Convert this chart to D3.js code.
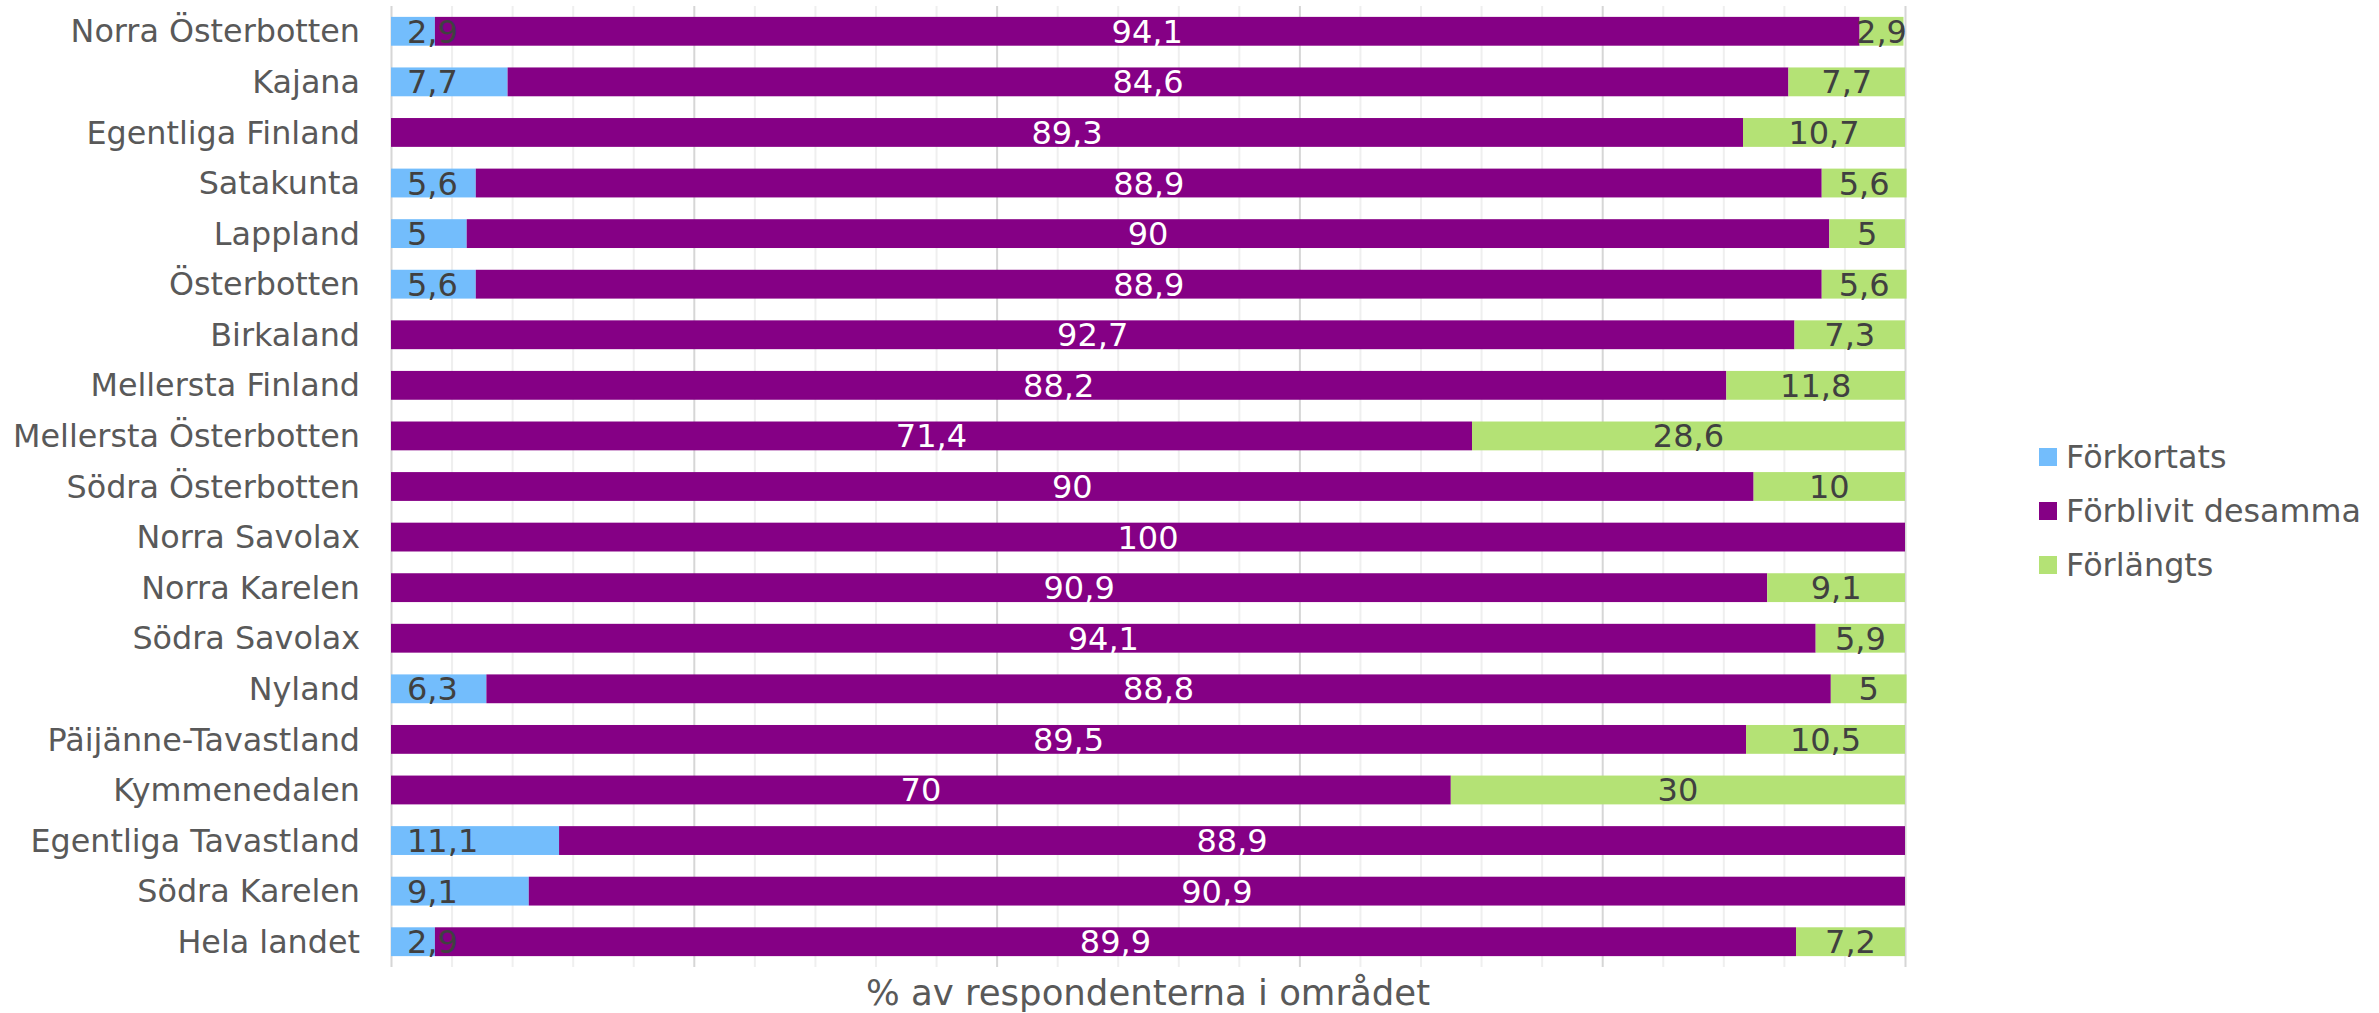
<!DOCTYPE html>
<html>
<head>
  <meta charset="utf-8">
  <title>Arbetstid per område</title>
  <script src="https://d3js.org/d3.v7.min.js"></script>
  <style>
    body {
      margin: 0;
      background: #fff;
      font-family: "DejaVu Sans", Verdana, sans-serif;
    }
    .cat text {
      fill: #595959;
      font-size: 31.8px;
    }
    .grid line {
      stroke: #efefef;
      stroke-width: 2px;
    }
    .grid line.major {
      stroke: #d6d6d6;
    }
    .grid .domain {
      display: none;
    }
    .lbl {
      font-size: 32px;
    }
    .legend text {
      fill: #595959;
      font-size: 31.8px;
    }
  </style>
</head>
<body>
  <script>
    // data (percent of respondents)
    var regions = ["Norra Österbotten", "Kajana", "Egentliga Finland", "Satakunta", "Lappland",
      "Österbotten", "Birkaland", "Mellersta Finland", "Mellersta Österbotten", "Södra Österbotten",
      "Norra Savolax", "Norra Karelen", "Södra Savolax", "Nyland", "Päijänne-Tavastland",
      "Kymmenedalen", "Egentliga Tavastland", "Södra Karelen", "Hela landet"];
    var forkortats = [2.9, 7.7, 0, 5.6, 5, 5.6, 0, 0, 0, 0, 0, 0, 0, 6.3, 0, 0, 11.1, 9.1, 2.9];
    var forblivit = [94.1, 84.6, 89.3, 88.9, 90, 88.9, 92.7, 88.2, 71.4, 90, 100, 90.9, 94.1, 88.8, 89.5, 70, 88.9, 90.9, 89.9];
    var forlangts = [2.9, 7.7, 10.7, 5.6, 5, 5.6, 7.3, 11.8, 28.6, 10, 0, 9.1, 5.9, 5, 10.5, 30, 0, 0, 7.2];
    var seriesNames = ["Förkortats", "Förblivit desamma", "Förlängts"];
    var seriesColors = ["#73bdfc", "#850085", "#b4e275"];
    var axisTitle = "% av respondenterna i området";

    var width = 2379,
        height = 1013;

    var rows = regions.map(function(r, i) {
      return { region: r, s0: forkortats[i], s1: forblivit[i], s2: forlangts[i] };
    });
    var keys = ["s0", "s1", "s2"];
    var stacked = d3.stack().keys(keys)(rows);

    var svg = d3.select("body")
      .append("svg")
      .attr("width", width)
      .attr("height", height);

    var x = d3.scaleLinear()
      .domain([0, 100])
      .range([391, 1905]);

    var y = d3.scaleBand()
      .domain(regions)
      .range([6, 967])
      .paddingInner(0.43)
      .paddingOuter(0.215);

    // gridlines every 4 %, darker every 20 %
    var grid = svg.append("g")
      .attr("class", "grid")
      .attr("transform", "translate(0,967)")
      .call(d3.axisBottom(x)
        .tickValues(d3.range(0, 101, 4))
        .tickSize(-961)
        .tickFormat(""));
    grid.selectAll(".tick line")
      .classed("major", function(d) { return d % 20 === 0; });

    // category labels
    svg.append("g")
      .attr("class", "cat")
      .selectAll("text")
      .data(regions)
      .enter()
      .append("text")
      .attr("x", 360)
      .attr("y", function(d) { return y(d) + y.bandwidth() / 2; })
      .attr("dy", "0.35em")
      .attr("text-anchor", "end")
      .text(function(d) { return d; });

    // bars
    var layers = svg.selectAll(".layer")
      .data(stacked)
      .enter()
      .append("g")
      .attr("class", "layer")
      .attr("fill", function(d, i) { return seriesColors[i]; });

    layers.selectAll("rect")
      .data(function(d) { return d; })
      .enter()
      .append("rect")
      .attr("x", function(d) { return x(d[0]); })
      .attr("y", function(d) { return y(d.data.region); })
      .attr("width", function(d) { return x(d[1]) - x(d[0]); })
      .attr("height", y.bandwidth());

    // value labels
    function fmt(v) {
      return String(v).replace(".", ",");
    }

    var labels = svg.append("g");
    stacked.forEach(function(layer, li) {
      labels.selectAll(".l" + li)
        .data(layer.filter(function(d) { return d[1] - d[0] > 0; }))
        .enter()
        .append("text")
        .attr("class", "lbl l" + li)
        .attr("x", function(d) {
          if (li === 0) return x(0) + 16;
          return (x(d[0]) + x(d[1])) / 2;
        })
        .attr("y", function(d) { return y(d.data.region) + y.bandwidth() / 2; })
        .attr("dy", "0.36em")
        .attr("text-anchor", li === 0 ? "start" : "middle")
        .attr("fill", li === 1 ? "#ffffff" : "#404040")
        .text(function(d) { return fmt(+(d[1] - d[0]).toFixed(1)); });
    });

    // axis title
    svg.append("text")
      .attr("x", (x(0) + x(100)) / 2)
      .attr("y", 1005)
      .attr("text-anchor", "middle")
      .attr("fill", "#595959")
      .style("font-size", "35.5px")
      .text(axisTitle);

    // legend
    var legend = svg.append("g")
      .attr("class", "legend")
      .selectAll("g")
      .data(seriesNames)
      .enter()
      .append("g")
      .attr("transform", function(d, i) { return "translate(2039," + (448 + i * 54) + ")"; });

    legend.append("rect")
      .attr("width", 18)
      .attr("height", 18)
      .attr("fill", function(d, i) { return seriesColors[i]; });

    legend.append("text")
      .attr("x", 27)
      .attr("y", 9)
      .attr("dy", "0.36em")
      .text(function(d) { return d; });
  </script>
</body>
</html>
